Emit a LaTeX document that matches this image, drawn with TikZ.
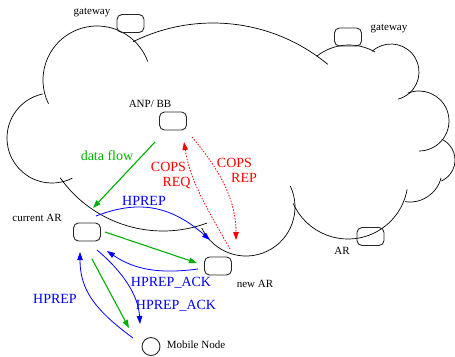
\documentclass[tikz,border=0pt]{standalone}
\usepackage{fontspec}
\setmainfont{Liberation Serif}
\usetikzlibrary{arrows.meta,calc}
\definecolor{xgreen}{RGB}{0,176,0}
\definecolor{xblue}{RGB}{0,0,255}
\definecolor{xred}{RGB}{255,0,0}
\newcommand\carc[5]{\draw[cloud] ([shift={(#4:#3)}]#1,-#2) arc[start angle=#4,end angle=#5,radius=#3];}
\begin{document}
\begin{tikzpicture}[x=1bp,y=1bp,
 cloud/.style={line width=0.7bp, black},
 box/.style={draw=black!85, line width=0.9bp, rounded corners=5bp, minimum width=27bp, minimum height=18bp, inner sep=0pt},
 small/.style={font=\fontsize{11bp}{13bp}\selectfont, inner sep=0pt, anchor=base},
 big/.style={font=\fontsize{14bp}{16bp}\selectfont, inner sep=0pt, anchor=base},
 tip/.style={-{Triangle[length=8bp,width=5.5bp]}},
 flow/.style={tip, color=xgreen, line width=1.1bp},
 msg/.style={tip, color=xblue, line width=0.8bp},
 cops/.style={tip, color=xred, line width=0.8bp, dash pattern=on 1.5bp off 1.5bp},
]
\useasboundingbox (0,0) rectangle (455,-356);
% cloud outline
\carc{97}{80}{54}{206}{20}
\carc{213}{203}{180}{116.4}{50.4}
\carc{349}{97}{52}{128}{60}
\carc{391}{72}{28}{132}{-75}
\carc{419}{121}{30}{112}{-90}
\carc{432}{160}{23}{65}{-66}
\carc{410}{170}{32}{-14}{-99}
\carc{348}{179}{60}{204}{350}
\carc{246}{207}{49}{205.5}{385.5}
\carc{163}{105}{126}{215.3}{290.5}
\carc{52}{138}{45}{102}{297}
% boxes
\node[box] (gw1) at (130.5,-23.5) {};
\node[box] (gw2) at (348,-37) {};
\node[box] (anp) at (173,-121) {};
\node[box] (car) at (87,-232) {};
\node[box] (nar) at (218,-266) {};
\node[box] (ar) at (370.5,-236.5) {};
\node[draw=black!85, line width=0.9bp, circle, minimum size=18bp, inner sep=0pt] (mn) at (151,-346.5) {};
% small labels
\node[small] (lgw1) at (92,-14) {gateway};
\node[small] (lgw2) at (389,-30) {gateway};
\node[small] (lanp) at (150,-107.5) {ANP/ BB};
\node[small] (lcar) at (37,-221) {current AR};
\node[small] (lnar) at (255,-287) {new AR};
\node[small] (lar) at (342,-254) {AR};
\node[small] (lmn) at (196,-348) {Mobile Node};
% big labels
\node[big, text=xgreen] (ldf) at (107,-160) {data flow};
\node[big, text=xred] (lc1) at (168.5,-171) {COPS};
\node[big, text=xred] (lc2) at (176.5,-186) {REQ};
\node[big, text=xred] (lc3) at (234.5,-167) {COPS};
\node[big, text=xred] (lc4) at (244,-182) {REP};
\node[big, text=xblue] (lh1) at (144,-205.5) {HPREP};
\node[big, text=xblue] (lh2) at (171,-286) {HPREP\_ACK};
\node[big, text=xblue] (lh3) at (176,-309) {HPREP\_ACK};
\node[big, text=xblue] (lh4) at (55,-303) {HPREP};
% arrow end points
\coordinate (dfS) at (155,-142);
\coordinate (dfE) at (93,-208);
\coordinate (g2S) at (105,-232);
\coordinate (g2E) at (197,-263);
\coordinate (g3S) at (92,-259);
\coordinate (g3E) at (129,-328);
\coordinate (hpS) at (96,-216);
\coordinate (hpE) at (210,-240);
\coordinate (a1S) at (198,-269);
\coordinate (a1E) at (107,-251);
\coordinate (a2S) at (97,-250);
\coordinate (a2E) at (140,-324);
\coordinate (h4S) at (133,-338);
\coordinate (h4E) at (80,-252);
\coordinate (rqS) at (230,-249);
\coordinate (rqE) at (184,-142);
\coordinate (rpS) at (192,-137);
\coordinate (rpE) at (236,-240);
% arrows
\draw[flow] (dfS) -- (dfE);
\draw[flow] (g2S) -- (g2E);
\draw[flow] (g3S) -- (g3E);
\draw[msg] (hpS) .. controls (130,-203) and (165,-200) .. (hpE);
\draw[msg] (a1S) .. controls (160,-274) and (135,-270) .. (a1E);
\draw[msg] (a2S) .. controls (115,-265) and (138,-290) .. (a2E);
\draw[msg] (h4S) .. controls (95,-310) and (80,-290) .. (h4E);
\draw[cops] (rqS) .. controls (205,-205) and (190,-180) .. (rqE);
\draw[cops] (rpS) .. controls (220,-170) and (236,-200) .. (rpE);
\end{tikzpicture}
\end{document}
